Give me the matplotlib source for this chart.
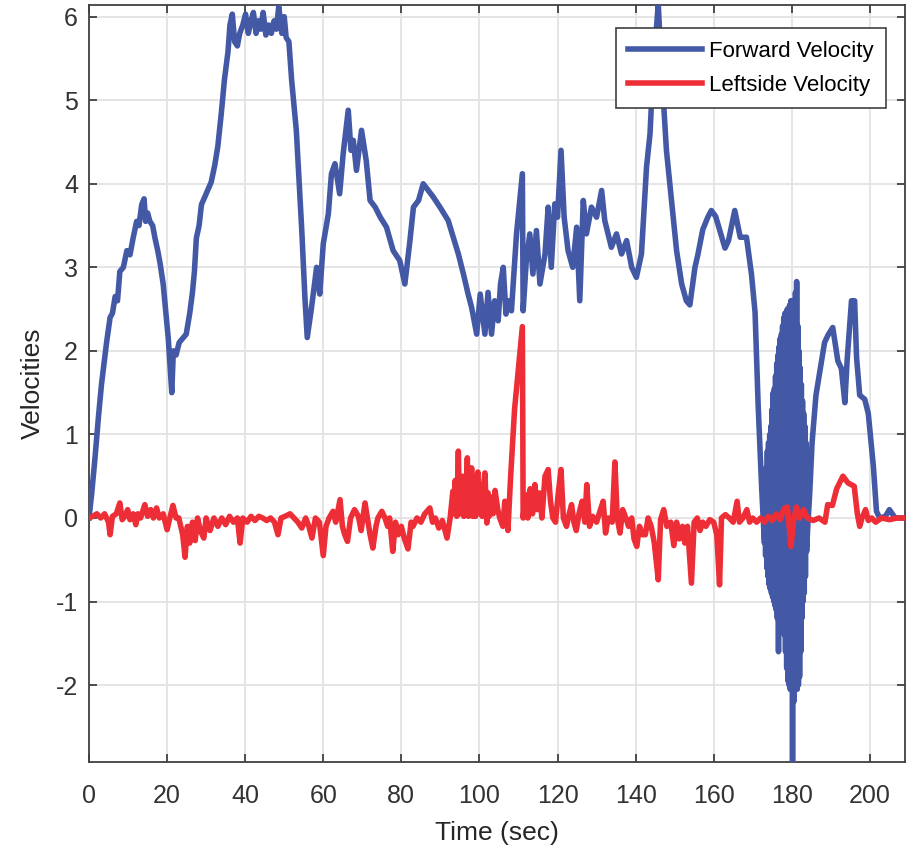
import matplotlib
matplotlib.use("Agg")
from matplotlib import pyplot as plt

# forward velocity
fwd_t = [0.0, 0.7, 1.5, 2.4, 3.2, 4.5, 5.4, 6.0, 6.7, 7.3, 7.9, 8.8, 9.7, 10.5, 11.3, 12.2, 12.8, 13.5,
         14.1, 14.5, 15.0, 15.6, 16.3, 16.9, 17.6, 18.2, 19.0, 19.5, 20.3, 21.2, 21.6, 22.3, 23.1, 24.0,
         24.9, 25.8, 26.5, 27.0, 27.5, 28.2, 28.8, 30.0, 31.3, 32.2, 33.0, 33.9, 34.7, 35.6, 36.1, 36.7,
         37.3, 38.0, 38.6, 39.4, 40.1, 40.8, 41.5, 42.1, 42.8, 43.4, 44.0, 44.6, 45.3, 46.0, 46.7, 47.4,
         48.0, 48.6, 49.4, 50.0, 50.5, 51.2, 51.9, 53.1, 54.5, 55.3, 55.9, 57.0, 58.3, 59.1, 60.0, 61.3,
         62.1, 63.0, 64.2, 65.1, 66.4, 67.1, 67.7, 68.5, 69.8, 71.0, 72.0, 73.3, 74.6, 76.2, 77.9, 79.6,
         80.9, 82.2, 83.1, 84.4, 85.6, 86.9, 88.2, 89.9, 92.0, 93.3, 94.6, 95.9, 97.1, 98.0, 99.3, 100.2,
         101.4, 102.2, 103.1, 103.9, 104.8, 105.4, 106.1, 106.8, 107.5, 108.2, 109.5, 111.0, 111.2, 112.0,
         112.9, 113.7, 114.6, 115.5, 116.8, 117.6, 118.4, 119.3, 120.0, 120.9, 121.7, 122.7, 123.9, 124.9,
         125.7, 126.6, 127.4, 128.7, 130.0, 131.3, 132.1, 133.8, 135.1, 136.4, 137.7, 139.0, 140.2, 141.5,
         142.8, 143.7, 144.5, 145.4, 145.8, 146.6, 147.9, 149.2, 150.5, 151.8, 153.0, 153.9, 155.2, 155.9,
         157.2, 158.5, 159.4, 160.5, 161.5, 162.9, 163.8, 165.4, 166.8, 168.4, 169.7, 170.6, 171.4, 172.3,
         173.0, 173.15, 173.3, 173.45, 173.6, 173.75, 173.9, 174.05, 174.2, 174.35, 174.5, 174.65, 174.8,
         174.95, 175.1, 175.25, 175.4, 175.55, 175.7, 175.85, 176.0, 176.15, 176.3, 176.45, 176.6, 176.75,
         176.9, 177.05, 177.2, 177.35, 177.5, 177.65, 177.8, 177.95, 178.1, 178.25, 178.4, 178.55, 178.7,
         178.85, 179.0, 179.15, 179.3, 179.45, 179.6, 179.75, 179.9, 180.05, 180.2, 180.35, 180.5, 180.65,
         180.8, 180.95, 181.1, 181.25, 181.4, 181.55, 181.7, 181.85, 182.0, 182.15, 182.3, 182.45, 182.6,
         182.75, 182.9, 183.05, 183.2, 183.35, 183.5, 183.65, 183.8,
         184.1, 184.6, 185.2, 186.2, 187.0,
         188.4, 189.3, 190.5, 191.8, 192.7, 193.6, 194.2, 195.3, 196.1, 196.6, 197.4, 198.7, 199.6, 200.9,
         201.7, 202.5, 204.0, 205.0, 206.5, 209.0]
fwd_v = [0.0, 0.3, 0.7, 1.2, 1.6, 2.1, 2.4, 2.45, 2.65, 2.6, 2.95, 3.0, 3.2, 3.15, 3.35, 3.55, 3.5, 3.75,
         3.82, 3.55, 3.65, 3.55, 3.5, 3.35, 3.2, 3.05, 2.8, 2.55, 2.15, 1.5, 2.0, 1.95, 2.1, 2.15,
         2.2, 2.45, 2.7, 2.95, 3.35, 3.5, 3.75, 3.88, 4.02, 4.22, 4.45, 4.85, 5.25, 5.58, 5.9, 6.03,
         5.7, 5.65, 5.8, 5.9, 6.03, 5.8, 5.95, 6.05, 5.8, 5.95, 5.85, 6.05, 5.78, 5.9, 5.8, 5.95,
         5.85, 6.12, 5.8, 6.0, 5.75, 5.7, 5.24, 4.64, 3.44, 2.64, 2.16, 2.52, 3.0, 2.68, 3.28, 3.64,
         4.12, 4.24, 3.88, 4.36, 4.88, 4.4, 4.52, 4.16, 4.64, 4.28, 3.8, 3.72, 3.6, 3.48, 3.2, 3.08,
         2.8, 3.32, 3.72, 3.8, 4.0, 3.92, 3.84, 3.72, 3.56, 3.36, 3.16, 2.92, 2.68, 2.52, 2.2, 2.68,
         2.2, 2.7, 2.2, 2.6, 2.36, 2.8, 3.0, 2.44, 2.6, 2.48, 3.4, 4.12, 2.48, 3.08,
         3.4, 2.92, 3.44, 2.8, 3.16, 3.72, 3.0, 3.76, 3.6, 4.4, 3.6, 3.2, 3.0, 3.48,
         2.6, 3.8, 3.4, 3.72, 3.6, 3.92, 3.56, 3.24, 3.4, 3.16, 3.32, 3.0, 2.88, 3.16,
         4.2, 4.6, 5.4, 5.9, 6.15, 5.4, 4.4, 3.8, 3.2, 2.8, 2.6, 2.55, 3.0, 3.14,
         3.45, 3.6, 3.68, 3.61, 3.45, 3.23, 3.32, 3.68, 3.36, 3.36, 2.91, 2.46, 1.34, 0.35,
         -0.3, 0.45, -0.45, 0.6, -0.6, 0.8, -0.7, 0.9, -0.8, 1.0, -0.85, 1.1, -0.9,
         1.3, -0.95, 1.5, -1.0, 1.55, -1.05, 1.7, -1.1, 1.85, -1.2, 1.95, -1.6, 2.05,
         -1.1, 2.15, -1.15, 2.2, -1.2, 2.3, -1.3, 2.4, -1.4, 2.45, -1.6, 2.45, -1.8,
         2.5, -1.95, 2.5, -2.0, 2.55, -2.05, 2.6, -2.05, 2.6, -2.93, 2.55, -2.2, 2.6,
         -2.05, 2.7, -2.05, 2.83, -2.05, 2.3, -2.0, 2.0, -1.9, 1.8, -1.6, 1.6, -1.2,
         1.4, -1.0, 1.25, -0.9, 1.1, -0.7, 0.9, -0.4,
         -0.1, 0.3, 0.9, 1.47, 1.7,
         2.1, 2.19, 2.28, 1.88, 1.79, 1.38, 1.9, 2.6, 2.6, 1.92, 1.47, 1.42, 1.25, 0.62,
         0.08, 0.0, 0.02, 0.1, 0.0, 0.0]

# leftside velocity
left_t = [0.0, 1.0, 2.0, 3.0, 4.0, 5.0, 5.4, 6.0, 7.0, 7.9, 8.5, 9.2, 9.9, 10.5, 11.3, 12.0, 12.5, 13.2,
          14.3, 15.0, 15.8, 16.5, 17.3, 18.0, 19.0, 20.0, 20.8, 21.5, 22.3, 23.0, 24.0, 24.6, 25.2, 25.8,
          26.5, 27.2, 27.8, 28.5, 29.4, 30.0, 31.0, 32.0, 33.0, 34.0, 35.0, 36.0, 37.0, 38.0, 38.7, 39.4,
          40.5, 41.5, 42.5, 43.5, 44.5, 45.5, 46.5, 47.5, 48.4, 49.2, 50.2, 51.5, 52.5, 53.5, 54.5, 55.5,
          56.3, 57.1, 58.0, 59.0, 60.0, 60.7, 61.5, 62.5, 63.2, 64.3, 64.9, 65.5, 66.2, 67.0, 68.0, 69.0,
          69.7, 70.7, 71.3, 72.0, 72.7, 73.5, 74.0, 75.0, 75.8, 76.5, 77.0, 77.8, 78.5, 79.2, 80.0, 80.8,
          81.7, 82.5, 83.0, 84.0, 85.0, 86.0, 87.3, 88.0, 88.7, 89.6, 90.5, 91.2, 91.7, 92.5, 93.2, 93.5,
          93.8, 94.2, 94.6, 94.9, 95.2, 95.5, 95.7, 96.0, 96.2, 96.5, 96.9, 97.2, 97.4, 97.7, 98.0, 98.3,
          98.6, 99.0, 99.3, 99.6, 100.1, 100.4, 100.7, 101.0, 101.4, 101.9, 102.2, 102.5, 103.0, 103.5,
          104.0, 104.7, 105.2, 106.0, 106.5, 107.3, 108.0, 109.0, 110.0, 111.0, 111.2, 111.8, 112.4, 113.0,
          113.6, 114.2, 114.8, 115.4, 116.0, 116.8, 117.6, 118.2, 118.8, 119.5, 120.2, 120.9, 121.5, 122.3,
          123.0, 123.6, 124.2, 124.8, 125.5, 126.3, 127.0, 127.5, 128.2, 129.0, 130.0, 131.0, 131.7, 132.3,
          133.0, 134.0, 134.7, 135.3, 136.0, 136.7, 137.5, 138.2, 139.0, 139.6, 140.3, 141.0, 141.8, 142.5,
          143.2, 144.0, 144.8, 145.8, 146.4, 147.2, 148.0, 149.0, 149.8, 150.5, 151.2, 152.0, 152.6, 153.3,
          154.3, 155.0, 155.8, 156.5, 157.2, 158.0, 159.0, 160.0, 160.8, 161.5, 162.0, 163.0, 164.0, 165.0,
          166.0, 166.6, 167.5, 168.5, 169.2, 170.0, 171.0, 172.0, 173.0, 174.0, 175.0, 176.0, 177.0, 178.0,
          178.9, 179.8, 180.5, 181.2, 182.0, 183.0, 184.0, 185.5, 187.0, 188.5, 189.2, 190.4, 191.5, 193.1,
          194.4, 196.0, 196.8, 197.4, 198.0, 198.9, 199.6, 200.5, 201.5, 203.0, 205.0, 207.0, 209.0]
left_v = [0.0, 0.02, 0.05, 0.0, 0.05, -0.05, -0.2, 0.02, 0.05, 0.18, -0.02, 0.02, 0.1, -0.02, 0.05, -0.08, 0.05, 0.0,
          0.16, 0.02, 0.1, 0.0, 0.12, 0.0, 0.05, -0.14, 0.02, 0.15, 0.0, 0.0, -0.2, -0.47, -0.1, -0.3,
          -0.05, -0.27, 0.0, -0.15, -0.24, 0.0, -0.15, 0.0, -0.1, 0.0, -0.08, 0.02, -0.05, 0.0, -0.3, 0.0,
          -0.05, 0.02, -0.03, 0.02, 0.0, -0.03, 0.0, -0.05, -0.2, 0.0, 0.02, 0.05, 0.0, -0.05, -0.12, 0.0,
          -0.1, -0.24, 0.0, -0.05, -0.45, -0.1, 0.0, 0.08, -0.05, 0.22, -0.1, -0.2, -0.28, 0.0, 0.1, 0.02,
          -0.15, 0.18, 0.0, -0.2, -0.36, -0.1, 0.0, 0.08, 0.0, -0.1, 0.0, -0.4, -0.05, -0.2, -0.1, -0.25,
          -0.37, -0.05, -0.1, 0.0, -0.05, 0.05, 0.12, -0.05, 0.0, -0.12, -0.03, -0.15, -0.24, 0.0, 0.32, 0.05,
          0.45, 0.02, 0.8, 0.05, 0.3, 0.05, 0.5, 0.02, 0.35, 0.05, 0.72, 0.02, 0.4, 0.05, 0.6, 0.02,
          0.3, 0.02, 0.45, 0.55, 0.05, 0.3, 0.02, 0.35, 0.54, -0.06, 0.3, 0.02, 0.25, 0.05,
          0.33, 0.1, 0.0, -0.1, 0.2, -0.15, 0.5, 1.3, 1.8, 2.29, 0.0, 0.28, 0.0, 0.35,
          0.05, 0.4, 0.1, 0.3, 0.0, 0.5, 0.58, 0.2, 0.0, -0.05, 0.3, 0.58, 0.0, -0.1,
          0.05, 0.16, -0.05, -0.15, 0.05, 0.2, -0.05, 0.4, -0.1, 0.02, -0.05, 0.1, 0.2, -0.18,
          0.0, -0.05, 0.67, 0.0, -0.18, 0.1, 0.0, -0.1, 0.0, -0.25, -0.34, -0.1, -0.2, -0.2,
          0.0, -0.1, -0.3, -0.74, -0.02, 0.1, -0.1, -0.05, -0.33, -0.05, -0.25, -0.1, -0.3, -0.1,
          -0.78, -0.05, 0.0, -0.15, -0.05, -0.1, -0.02, -0.05, -0.2, -0.8, 0.0, 0.04, 0.0, -0.05,
          0.2, -0.05, 0.0, 0.1, -0.05, 0.0, -0.05, 0.0, -0.05, 0.02, -0.03, 0.05, -0.02, 0.11,
          0.13, -0.34, -0.02, 0.13, 0.0, 0.1, 0.0, -0.03, 0.0, -0.05, 0.16, 0.15, 0.35, 0.5,
          0.42, 0.38, 0.05, -0.1, 0.0, 0.1, -0.03, 0.0, -0.05, 0.0, -0.02, 0.0, 0.0]

yticks = [-2, -1, 0, 1, 2, 3, 4, 5, 6]
xticks = [0, 20, 40, 60, 80, 100, 120, 140, 160, 180, 200]

plt.rcParams['font.family'] = ['Liberation Sans', 'DejaVu Sans']
plt.rcParams['axes.unicode_minus'] = False

fig = plt.figure(figsize=(9.11, 8.55), dpi=100)
ax = fig.add_axes([0.0977, 0.1088, 0.8957, 0.8854])

ax.plot(fwd_t, fwd_v, color='#4459a6', lw=4, label='Forward Velocity', zorder=3)
ax.plot(left_t, left_v, color='#ee2e36', lw=4, label='Leftside Velocity', zorder=4)

ax.set_xlim(0, 209)
ax.set_ylim(-2.92, 6.14)
ax.set_xticks(xticks)
ax.set_yticks(yticks)
ax.grid(True, color='#e3e3e3', lw=1.3)
ax.set_axisbelow(True)
ax.tick_params(direction='in', length=6, width=1.2, colors='#333333', labelsize=18,
               top=True, right=True)
ax.tick_params(axis='x', pad=16)
ax.tick_params(axis='y', pad=8)
for s in ax.spines.values():
    s.set_color('#404040')
    s.set_linewidth(1.3)

ax.set_xlabel('Time (sec)', fontsize=19, color='#262626', labelpad=9)
ax.set_ylabel('Velocities', fontsize=19, color='#262626', labelpad=8)

leg = ax.legend(loc='upper right', bbox_to_anchor=(0.977, 0.969), fontsize=16,
                fancybox=False, edgecolor='#404040', framealpha=1, handlelength=3.3,
                borderpad=0.55, labelspacing=0.6, handletextpad=0.35, borderaxespad=0)
leg.get_frame().set_linewidth(1.2)

fig.savefig('out.png', dpi=100)
